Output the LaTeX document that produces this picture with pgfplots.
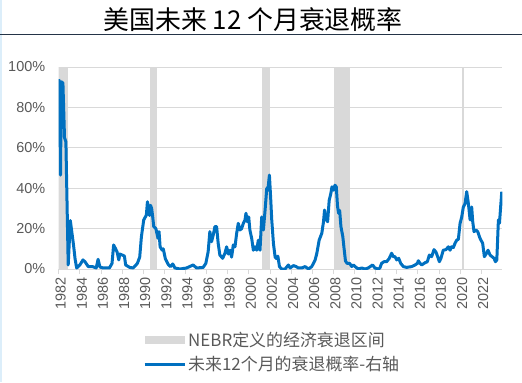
\documentclass[border=0pt]{standalone}
\usepackage{pgfplots}
\pgfplotsset{compat=1.18}
\usepackage{fontspec}
\setmainfont{Liberation Sans}
\newfontfamily\cjk{Noto Sans CJK SC}
\definecolor{lineblue}{HTML}{0070C0}
\definecolor{band}{HTML}{D9D9D9}
\definecolor{gridc}{HTML}{D9D9D9}
\definecolor{txt}{HTML}{595959}
\definecolor{titleline}{HTML}{243447}
\definecolor{edge}{HTML}{DCEEFA}
\begin{document}
\begin{tikzpicture}[x=1bp,y=1bp]
\useasboundingbox (0,0) rectangle (522,382);
\fill[edge] (0,0) rectangle (1.8,382);
\node[font=\cjk\fontsize{26}{26}\selectfont, text=black] at (253,362) {美国未来 12 个月衰退概率};
\draw[titleline, line width=1bp] (0,348) -- (522,348);
\begin{axis}[
  at={(58.7bp,113bp)}, anchor=south west,
  width=443.6bp, height=202bp, scale only axis,
  xmin=1982, xmax=2024, ymin=0, ymax=100,
  separate axis lines,
  axis x line*=bottom, x axis line style={draw=gridc, line width=0.8bp, -},
  axis y line*=left, y axis line style={draw=none},
  ytick style={draw=none},
  xtick style={draw=gridc, line width=0.8bp},
  xtick align=outside, major tick length=5bp,
  ymajorgrids, grid style={gridc, line width=0.8bp},
  xtick={1982,1984,...,2022}, ytick={0,20,...,100},
  yticklabel={\pgfmathprintnumber{\tick}\%},
  /pgf/number format/assume math mode=true,
  /pgf/number format/1000 sep={},
  tick label style={font=\fontsize{14.5}{15}\selectfont, text=txt},
  xticklabel style={rotate=90, anchor=east, yshift=-2bp},
  yticklabel style={xshift=-10bp},
  legend style={at={(0.19,-0.30)}, anchor=north west, draw=none, fill=none,
    font=\cjk\fontsize{17}{17}\selectfont, text=txt, row sep=5bp,
    cells={anchor=west}, inner sep=0pt},
]
\addplot[fill=band, draw=none,
  legend image code/.code={\fill[band] (0bp,-4bp) rectangle (40bp,4bp);}]
  coordinates {(1981.5,100) (1982.92,100)} \closedcycle;
\addlegendentry{NEBR定义的经济衰退区间}
\addplot[fill=band, draw=none, forget plot] coordinates {(1990.65,100) (1991.27,100)} \closedcycle;
\addplot[fill=band, draw=none, forget plot] coordinates {(2001.23,100) (2001.99,100)} \closedcycle;
\addplot[fill=band, draw=none, forget plot] coordinates {(2008.07,100) (2009.55,100)} \closedcycle;
\addplot[fill=band, draw=none, forget plot] coordinates {(2020.2,100) (2020.37,100)} \closedcycle;
\addplot[lineblue, line width=3bp, line join=round, mark=none,
  legend image code/.code={\draw[lineblue, line width=3bp] (0bp,0bp) -- (40bp,0bp);}]
  coordinates {
(1982.0,94) (1982.1,88) (1982.17,46.5) (1982.25,92.7) (1982.4,92) (1982.55,65) (1982.68,63)
(1982.9,2) (1983.1,24) (1983.25,18) (1983.4,12) (1983.55,5) (1983.7,0.5) (1984.0,2)
(1984.3,4.5) (1984.5,3.5) (1984.8,1.2) (1985.2,1.2) (1985.55,0.5) (1985.73,4.8) (1985.9,1)
(1986.2,0.5) (1986.8,0.5) (1987.05,2.8) (1987.2,11.9) (1987.37,10.2) (1987.53,8.4)
(1987.69,4.5) (1987.78,7.4) (1988.03,6.9) (1988.22,6.4) (1988.34,2) (1988.72,0.8)
(1989.04,0.5) (1989.2,1.3) (1989.45,2.8) (1989.67,5.9) (1989.83,16) (1990.05,24.3)
(1990.3,26.7) (1990.4,33.3) (1990.5,31) (1990.6,26.5) (1990.7,31.5) (1990.8,30)
(1990.9,25.8) (1991.0,21) (1991.2,20) (1991.4,15.2) (1991.5,18.5) (1991.6,11) (1991.8,9.3)
(1991.9,10) (1992.1,5) (1992.4,2) (1992.6,1.2) (1992.8,2.5) (1993.0,0.5) (1993.5,0)
(1994.1,0.5) (1994.73,2) (1995.05,0.5) (1995.68,0.8) (1995.93,2.8) (1996.15,8.6)
(1996.31,18.5) (1996.47,13.5) (1996.63,16.8) (1996.79,21) (1996.95,21) (1997.1,12.7)
(1997.26,6.9) (1997.52,5.3) (1997.74,7.8) (1997.9,11) (1998.06,7.4) (1998.22,9.3)
(1998.37,5.9) (1998.53,11.9) (1998.69,11) (1998.85,17.7) (1999.0,22.6) (1999.16,19.3)
(1999.32,20) (1999.48,22.6) (1999.64,24.3) (1999.73,27.6) (1999.86,23.4) (1999.99,25.8)
(2000.1,19.3) (2000.27,15.2) (2000.43,9.3) (2000.59,11) (2000.75,9.3) (2000.9,14.3)
(2001.06,9.3) (2001.22,25.8) (2001.38,19.3) (2001.54,29.2) (2001.7,40) (2001.8,39)
(2001.95,46.5) (2002.08,34) (2002.17,24.3) (2002.33,12.7) (2002.49,5.9) (2002.65,5.1)
(2002.75,6.4) (2002.9,1.2) (2003.12,0) (2003.43,0) (2003.75,2) (2003.91,0.5) (2004.23,1.7)
(2004.48,1.2) (2004.7,0.5) (2005.0,0.5) (2005.33,1.2) (2005.65,0) (2005.96,1.2)
(2006.28,4.5) (2006.44,7.8) (2006.66,14.3) (2006.91,17.7) (2007.07,23.4) (2007.17,29.2)
(2007.3,25) (2007.46,23.4) (2007.61,34) (2007.77,37.5) (2007.87,40.7) (2008.03,39)
(2008.15,41.5) (2008.28,40.7) (2008.4,31) (2008.5,27.6) (2008.6,29) (2008.72,21)
(2008.9,16) (2009.0,11) (2009.15,4) (2009.3,2.8) (2009.55,2.8) (2009.74,1.2) (2009.9,2)
(2010.06,1.2) (2010.37,0) (2010.69,0.5) (2011.0,0) (2011.3,0.5) (2011.72,2) (2011.94,0.5)
(2012.26,0) (2012.41,0.5) (2012.57,2.8) (2012.79,3.6) (2013.05,3.6) (2013.3,5.3)
(2013.52,7.8) (2013.68,6.1) (2013.84,6.1) (2014.0,4.5) (2014.19,5.3) (2014.38,2.8)
(2014.63,1.2) (2014.95,0.8) (2015.42,1.2) (2015.74,2) (2015.96,2.8) (2016.05,4.1)
(2016.21,2.8) (2016.37,2) (2016.68,3.1) (2016.9,3.6) (2017.09,6.9) (2017.31,6.1)
(2017.53,9.6) (2017.72,8.4) (2017.88,6.1) (2018.04,3.6) (2018.19,5.3) (2018.41,9.3)
(2018.67,9.6) (2018.89,11) (2019.05,9.3) (2019.2,11) (2019.36,10.6) (2019.52,12.7)
(2019.68,14.3) (2019.84,14.7) (2020.0,22.6) (2020.16,25.8) (2020.31,30.7) (2020.47,32.3)
(2020.63,38.3) (2020.79,32.3) (2020.95,24.3) (2021.1,30.7) (2021.2,23.4) (2021.32,18.5)
(2021.5,19.3) (2021.67,18.5) (2021.89,15.2) (2022.14,12.7) (2022.3,6.1) (2022.46,7.4)
(2022.65,9.3) (2022.84,6.9) (2023.03,6.1) (2023.22,5.3) (2023.35,3.6) (2023.48,4.5)
(2023.63,24.3) (2023.73,22.6) (2023.82,29.2) (2023.95,38.3)
  };
\addlegendentry{未来12个月的衰退概率-右轴}
\end{axis}
\end{tikzpicture}
\end{document}
